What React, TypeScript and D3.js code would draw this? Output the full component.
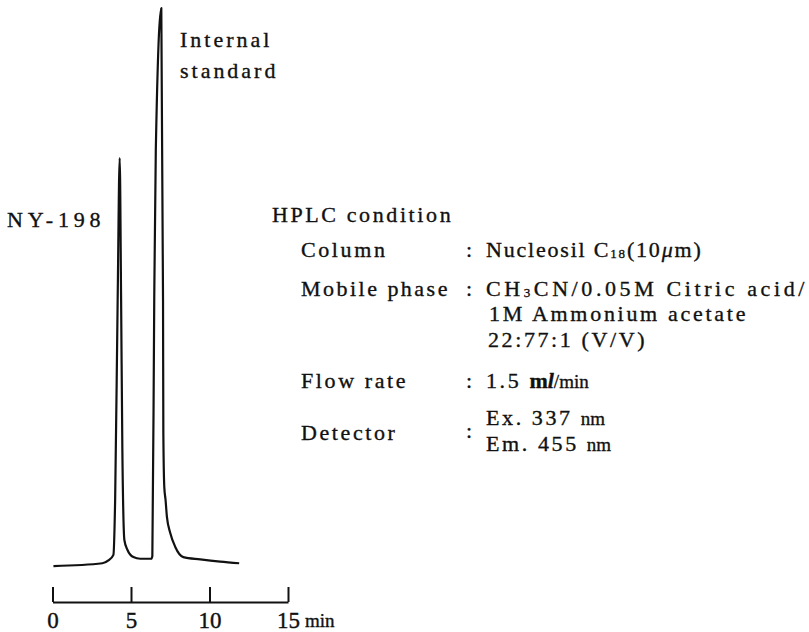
import React, { useRef, useEffect } from 'react';
import * as d3 from 'd3';

// chromatogram trace (time in min, relative detector response)
const retentionTime = [0.06, 3.18, 3.56, 3.88, 3.99, 4.15, 4.28, 4.37, 4.45, 4.58, 4.77, 5.15, 5.59, 6.29, 6.36, 6.48, 6.58, 6.93, 7.04, 7.06, 7.12, 7.2, 7.29, 7.5, 7.82, 8.33, 9.41, 10.68, 11.89];
const response = [0.7, 1.2, 1.7, 2.7, 12.5, 48, 73.3, 48, 21.4, 5.3, 3.6, 2.3, 2.0, 2.0, 2.5, 48, 74.7, 100, 48, 24.4, 14.8, 12.5, 9.4, 6.6, 4.1, 2.3, 1.9, 1.5, 1.2];
const timeTicks = [0, 5, 10, 15];
const timeUnit = 'min';

const peakNames = ['NY-198', 'Internal', 'standard'];
const conditionTitle = 'HPLC condition';
const conditionLabels = ['Column', 'Mobile phase', 'Flow rate', 'Detector'];

const W = 809;
const H = 632;
const FONT = '"Liberation Serif", "DejaVu Serif", serif';

const App = () => {
    const axisRef = useRef<SVGGElement>(null);

    // scales
    const x = d3.scaleLinear().domain([0, 15]).range([52.5, 288]);
    const y = d3.scaleLinear().domain([0, 100]).range([570, 8]);

    const points: [number, number][] = retentionTime.map((t, i) => [t, response[i]]);
    const line = d3.line<[number, number]>()
        .x(d => x(d[0]))
        .y(d => y(d[1]))
        .curve(d3.curveMonotoneX);

    useEffect(() => {
        const g = d3.select(axisRef.current);
        g.selectAll('*').remove();
        g.call(
            d3.axisBottom(x)
                .tickValues(timeTicks)
                .tickSize(-15)
                .tickSizeOuter(0)
                .tickPadding(9)
                .tickFormat(d3.format('d'))
        );
        g.select('.domain').attr('stroke', '#111').attr('stroke-width', 2);
        g.selectAll('.tick line').attr('stroke', '#111').attr('stroke-width', 2);
        g.selectAll('.tick text')
            .attr('fill', '#111')
            .attr('stroke', '#111')
            .attr('stroke-width', 0.4)
            .style('font-family', FONT)
            .style('font-size', '23px')
            .attr('dy', '0.72em');
    }, []);

    const txt = { fontFamily: FONT, fontSize: 22, fill: '#111', stroke: '#111', strokeWidth: 0.35, letterSpacing: 2.6 } as React.CSSProperties;
    const unit = { fontFamily: FONT, fontSize: 19, letterSpacing: 0 } as React.CSSProperties;
    const colonX = 466;
    const valX = 486;

    return (
        <svg width={W} height={H} style={{ position: 'absolute', left: 0, top: 0, background: '#fff' }}>
            <path d={line(points) || ''} fill="none" stroke="#111" strokeWidth={2.2} strokeLinejoin="round" />

            <g ref={axisRef} transform="translate(0,602)" />
            <text x={x(15) + 17} y={627} style={{ ...txt, ...unit }}>{timeUnit}</text>

            {/* peak labels */}
            <text x={7} y={227} style={txt} textLength={96}>{peakNames[0]}</text>
            <text x={180} y={47} style={txt} textLength={92}>{peakNames[1]}</text>
            <text x={180} y={78} style={txt} textLength={98}>{peakNames[2]}</text>

            {/* conditions */}
            <text x={272} y={222} style={txt}>{conditionTitle}</text>

            <text x={301} y={257} style={txt}>{conditionLabels[0]}</text>
            <text x={colonX} y={257} style={txt}>:</text>
            <text x={valX} y={257} style={{ ...txt, letterSpacing: 1.8 }}>
                Nucleosil C<tspan fontSize={13} dy={1}>18</tspan><tspan dy={-1}>(10</tspan><tspan fontStyle="italic">μ</tspan>m)
            </text>

            <text x={301} y={296} style={txt} textLength={149}>{conditionLabels[1]}</text>
            <text x={colonX} y={296} style={txt}>:</text>
            <text x={valX} y={296} style={txt} textLength={321}>
                CH<tspan fontSize={13} dy={1}>3</tspan><tspan dy={-1}>CN/0.05M Citric acid/</tspan>
            </text>
            <text x={valX + 3} y={321} style={txt} textLength={259}>1M Ammonium acetate</text>
            <text x={valX + 2} y={347} style={txt}>22:77:1 (V/V)</text>

            <text x={301} y={388} style={txt}>{conditionLabels[2]}</text>
            <text x={colonX} y={388} style={txt}>:</text>
            <text x={valX} y={388} style={txt}>
                1.5 <tspan fontWeight="bold" letterSpacing={0}>m<tspan fontStyle="italic">l</tspan></tspan><tspan style={unit}>/min</tspan>
            </text>

            <text x={301} y={440} style={txt}>{conditionLabels[3]}</text>
            <text x={colonX} y={438} style={txt}>:</text>
            <text x={valX} y={425} style={txt}>Ex. 337 <tspan style={unit}>nm</tspan></text>
            <text x={valX} y={451} style={txt}>Em. 455 <tspan style={unit}>nm</tspan></text>
        </svg>
    );
};

export default App;
